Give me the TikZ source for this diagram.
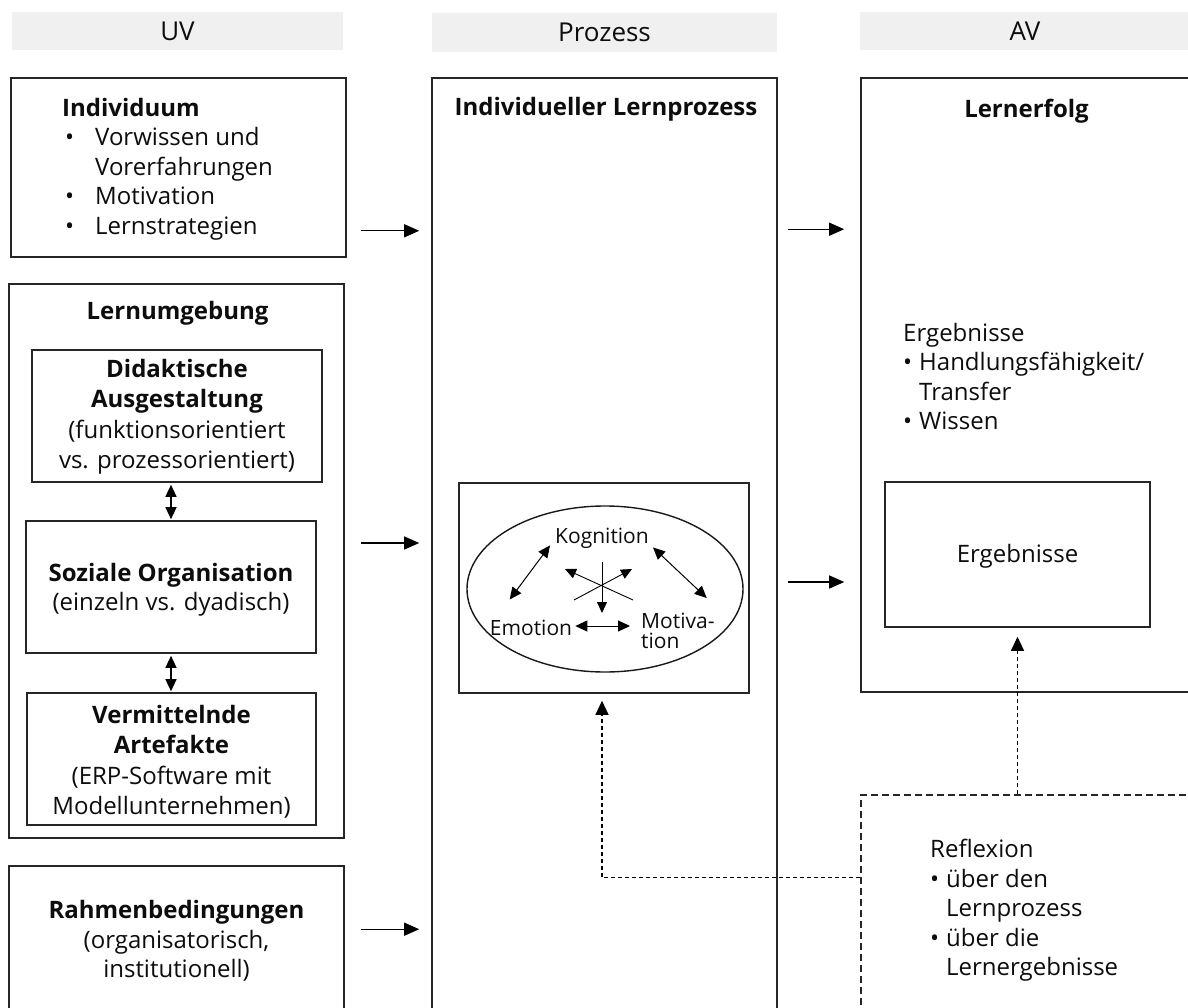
\documentclass[tikz,border=0pt]{standalone}
\usepackage{fontspec}
\setmainfont{Open Sans}
\usetikzlibrary{arrows.meta,calc,shapes.geometric}

% bullet helpers for the left-aligned lists
\newcommand\wideBul{\makebox[33pt][l]{\hspace{3pt}•}}
\newcommand\wideInd{\hspace*{33pt}}
\newcommand\narrowBul{\makebox[16pt][l]{•}}
\newcommand\narrowInd{\hspace*{16pt}}

\begin{document}
\begin{tikzpicture}[x=1pt,y=-1pt,
  every node/.style={text=black!95},
  box/.style={draw=black!85, line width=1.6pt, inner sep=0pt},
  dbox/.style={draw=black!85, line width=1.4pt, dash pattern=on 7pt off 4pt, inner sep=0pt},
  hdr/.style={fill=black!6, inner sep=0pt, font=\fontsize{26}{30}\selectfont},
  txt/.style={inner sep=0pt, align=center, font=\fontsize{24}{29.5}\selectfont},
  ltxt/.style={inner sep=0pt, align=left, font=\fontsize{24}{29.5}\selectfont},
  small/.style={inner sep=0pt, font=\fontsize{21}{20}\selectfont},
  arr/.style={line width=1.2pt, -{Triangle[length=15pt,width=13pt]}},
  darr/.style={line width=1.2pt, {Triangle[length=12pt,width=11pt]}-{Triangle[length=12pt,width=11pt]}},
  sarr/.style={line width=1pt, {Triangle[length=12pt,width=11pt]}-{Triangle[length=12pt,width=11pt]}},
  starr/.style={line width=0.9pt, -{Triangle[length=11pt,width=10pt]}},
  dasharr/.style={line width=1.2pt, dash pattern=on 4pt off 3pt, -{Triangle[length=14pt,width=13pt]}},
]
\useasboundingbox (0,0) rectangle (1188,1008);
\fill[white] (0,0) rectangle (1188,1008);
\clip (0,0) rectangle (1188,1008);

% column headers
\node[hdr, minimum width=331pt, minimum height=38pt] (hUV) at (177.5,31) {UV};
\node[hdr, minimum width=345pt, minimum height=39pt] (hP) at (604.5,32.5) {Prozess};
\node[hdr, minimum width=330pt, minimum height=38pt] (hAV) at (1025,31) {AV};

% left column: independent variables
\node[box, minimum width=335pt, minimum height=179pt] (indiv) at (178.5,167.5) {};
\node[ltxt, anchor=north west] (indivT) at (62,98)
  {\textbf{Individuum}\\\wideBul Vorwissen und\\\wideInd Vorerfahrungen\\\wideBul Motivation\\\wideBul Lernstrategien};

\node[box, minimum width=335pt, minimum height=554pt] (lern) at (176.5,561) {};
\node[txt] (lernT) at (177.5,313) {\textbf{Lernumgebung}};

\node[box, minimum width=290pt, minimum height=132pt] (didakt) at (177,416) {};
\node[txt] (didaktT) at (177,417)
  {\textbf{Didaktische}\\\textbf{Ausgestaltung}\\[2pt](funktionsorientiert\\vs. prozessorientiert)};

\node[box, minimum width=290pt, minimum height=132pt] (sozial) at (171,587) {};
\node[txt] (sozialT) at (171,590) {\textbf{Soziale Organisation}\\(einzeln vs. dyadisch)};

\node[box, minimum width=289pt, minimum height=132pt] (verm) at (171.5,759) {};
\node[txt] (vermT) at (171.5,762)
  {\textbf{Vermittelnde}\\\textbf{Artefakte}\\[2pt](ERP-Software mit\\Modellunternehmen)};

\node[box, minimum width=335pt, minimum height=174pt] (rahmen) at (176.5,953) {};
\node[txt] (rahmenT) at (176.5,941)
  {\textbf{Rahmenbedingungen}\\(organisatorisch,\\institutionell)};

% middle column: learning process
\node[box, minimum width=345pt, minimum height=962pt] (proc) at (604.5,559) {};
\node[txt] (procT) at (606,109) {\textbf{Individueller Lernprozess}};

\node[box, minimum width=290pt, minimum height=210pt] (inner) at (604,588) {};
\node[draw=black!90, line width=1.4pt, ellipse, inner sep=0pt,
      minimum width=276pt, minimum height=166pt] (circ) at (605,589) {};

\node[small] (kog) at (602,538) {Kognition};
\node[small] (emo) at (531,628) {Emotion};
\node[small, align=left, anchor=north west] (mot) at (641,613) {Motiva-\\tion};

\draw[sarr] ($(kog.south west)+(-5,-3)$) -- ($(emo.north west)+(20,-20.5)$);
\draw[sarr] ($(kog.south east)+(4,-1)$) -- ($(mot.north east)+(-8,-15)$);
\draw[sarr] ($(emo.east)+(3,-2)$) -- ($(emo.east -| mot.west)+(-11,-2)$);

\coordinate (cx) at (602,586);
\draw[starr] ($(cx)+(-28,14)$) -- ($(cx)+(30,-17)$);
\draw[starr] ($(cx)+(31,14)$) -- ($(cx)+(-37,-17)$);
\draw[starr] ($(cx)+(0,-24)$) -- ($(cx)+(0,27)$);

% right column: learning outcome
\node[box, minimum width=359pt, minimum height=614pt] (lerf) at (1040.5,385) {};
\node[txt] (lerfT) at (1026.5,111) {\textbf{Lernerfolg}};
\node[ltxt, anchor=north west] (lerfL) at (903,323)
  {Ergebnisse\\\narrowBul Handlungsfähigkeit/\\\narrowInd Transfer\\\narrowBul Wissen};

\node[box, minimum width=265pt, minimum height=145pt] (erg) at (1017.5,554.5) {};
\node[txt] (ergT) at (1017.5,556) {Ergebnisse};

\node[dbox, minimum width=359pt, minimum height=245pt] (refl) at (1040.5,917.5) {};
\node[ltxt, anchor=north west] (reflT) at (930,839)
  {Reflexion\\\narrowBul über den\\\narrowInd Lernprozess\\\narrowBul über die\\\narrowInd Lernergebnisse};

% connectors
\draw[arr] ($(indiv.south east)+(14,-27)$) -- ($(indiv.south east -| proc.west)+(-12,-27)$);
\draw[arr] ($(lern.east)+(16,-18)$) -- ($(lern.east -| proc.west)+(-12,-18)$);
\draw[arr] ($(rahmen.north east)+(16,64)$) -- ($(rahmen.north east -| proc.west)+(-12,64)$);
\draw[arr] ($(proc.north east)+(10,152)$) -- ($(proc.north east -| lerf.west)+(-16,152)$);
\draw[arr] ($(inner.east -| proc.east)+(10,-6)$) -- ($(inner.east -| lerf.west)+(-16,-6)$);

\draw[darr, shorten <=2pt, shorten >=1pt] (didakt.south -| sozial.north) -- (sozial.north);
\draw[darr, shorten <=2pt, shorten >=1pt] (sozial.south) -- (sozial.south |- verm.north);

\draw[dasharr] ($(refl.north west)+(0,83)$) -| ($(inner.south)+(-2,7)$);
\draw[dasharr] (erg.south |- refl.north) -- ($(erg.south)+(0,9)$);

\end{tikzpicture}
\end{document}
